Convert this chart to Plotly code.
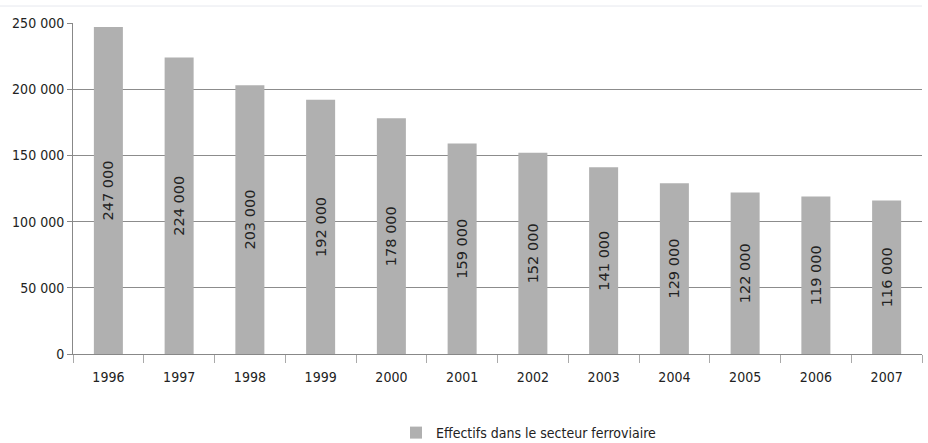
import plotly.graph_objects as go

# Railway sector headcount, 1996-2007
years = ["1996", "1997", "1998", "1999", "2000", "2001",
         "2002", "2003", "2004", "2005", "2006", "2007"]
effectifs = [247000, 224000, 203000, 192000, 178000, 159000,
             152000, 141000, 129000, 122000, 119000, 116000]
series_name = "Effectifs dans le secteur ferroviaire"

W, H = 928, 443
m_l, m_r, m_t, m_b = 73, 6, 23, 89
plot_w = W - m_l - m_r
plot_h = H - m_t - m_b

axis_font = dict(family="DejaVu Sans Condensed", size=14, color="#222222")

fig = go.Figure()
fig.add_trace(go.Bar(
    x=years,
    y=effectifs,
    name=series_name,
    marker=dict(color="#b0b0b0", line=dict(width=0)),
    width=0.41,
    texttemplate="%{y:,d}",
    textposition="inside",
    textangle=-90,
    insidetextanchor="middle",
    textfont=dict(family="DejaVu Sans", size=14.5, color="#222222"),
    showlegend=True,
))

fig.update_layout(
    width=W, height=H,
    margin=dict(l=m_l, r=m_r, t=m_t, b=m_b, autoexpand=False),
    paper_bgcolor="white",
    plot_bgcolor="white",
    separators=", ",
    font=axis_font,
    xaxis=dict(
        type="category",
        tickson="boundaries",
        ticks="outside",
        ticklen=8,
        tickcolor="#aaaaaa",
        ticklabelstandoff=10,
        showline=True,
        linecolor="#888888",
        linewidth=1,
        showgrid=False,
        tickfont=axis_font,
    ),
    yaxis=dict(
        range=[0, 250000],
        tickvals=[0, 50000, 100000, 150000, 200000, 250000],
        tickformat=",d",
        ticks="outside",
        ticklen=5,
        tickcolor="#888888",
        showline=True,
        linecolor="#888888",
        linewidth=1,
        showgrid=True,
        gridcolor="#8c8c8c",
        gridwidth=1,
        zeroline=False,
        tickfont=axis_font,
    ),
    legend=dict(
        orientation="h",
        x=(396 - m_l) / plot_w, xanchor="left",
        y=-(m_b + 6) / plot_h, yanchor="bottom",
        font=dict(family="DejaVu Sans Condensed", size=14, color="#222222"),
        itemwidth=30,
    ),
    shapes=[dict(
        type="line", xref="paper", yref="paper",
        x0=-m_l / plot_w, x1=1.0,
        y0=1 + 17 / plot_h, y1=1 + 17 / plot_h,
        line=dict(color="#e6e8ee", width=1),
    )],
)

fig.write_html("out.html")
